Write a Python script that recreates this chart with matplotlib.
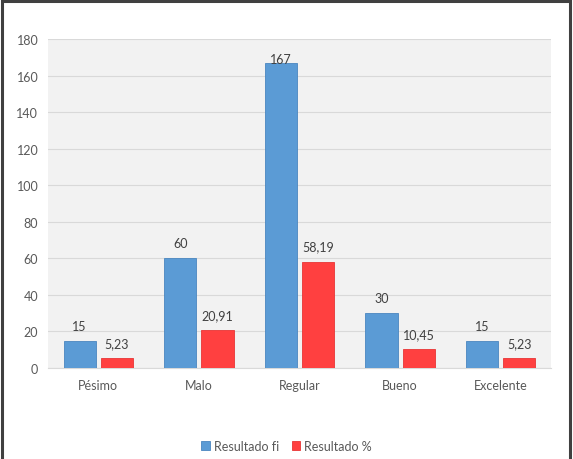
import numpy as np
import matplotlib.pyplot as plt
from matplotlib.patches import Rectangle

# Data
categories = ["Pésimo", "Malo", "Regular", "Bueno", "Excelente"]
resultado_fi = [15, 60, 167, 30, 15]
resultado_pct = [5.23, 20.91, 58.19, 10.45, 5.23]
pct_labels = ["5,23", "20,91", "58,19", "10,45", "5,23"]

plt.rcParams['font.family'] = ['Lato', 'DejaVu Sans']

fig = plt.figure(figsize=(5.73, 4.60), dpi=100)
ax = fig.add_axes([48/573, 1 - 369/460, 503/573, 329/460])

ax.set_facecolor('#f2f2f2')
x = np.arange(len(categories))
w = 0.32
off = 0.185

blue = '#5b9bd5'
red = '#ff4040'
ax.bar(x - off, resultado_fi, w, color=blue, edgecolor='#4a86c0', linewidth=0.6, zorder=3,
       label='Resultado fi')
ax.bar(x + off, resultado_pct, w, color=red, edgecolor='#e83535', linewidth=0.6, zorder=3,
       label='Resultado %')

# Value labels
for xi, v in zip(x, resultado_fi):
    ax.text(xi - off, min(v + 8.2, 169), str(v), ha='center', va='center',
            fontsize=9, color='#404040', zorder=4)
for xi, v, s in zip(x, resultado_pct, pct_labels):
    ax.text(xi + off, v + 8.2, s, ha='center', va='center',
            fontsize=9, color='#404040', zorder=4)

ax.set_xlim(-0.5, 4.5)
ax.set_ylim(0, 180)
ax.set_yticks(range(0, 181, 20))
ax.set_xticks(x)
ax.set_xticklabels(categories)
ax.yaxis.grid(True, color='#d9d9d9', linewidth=0.8, zorder=0)
ax.set_axisbelow(True)
for s in ax.spines.values():
    s.set_visible(False)
ax.spines['bottom'].set_visible(True)
ax.spines['bottom'].set_color('#d9d9d9')
ax.tick_params(length=0, labelsize=9, colors='#595959')
ax.tick_params(axis='y', pad=7)
ax.tick_params(axis='x', pad=8)

leg = fig.legend(loc='center', bbox_to_anchor=(0.5, 1 - 447/460), ncol=2, frameon=False,
                 fontsize=9, handlelength=0.7, handleheight=0.7, handletextpad=0.3,
                 columnspacing=1.0)
for t in leg.get_texts():
    t.set_color('#595959')

# Outer frame
fig.add_artist(Rectangle((1.5/573, -0.1), 568/573, 1.1 - 1.5/460, transform=fig.transFigure,
                         fill=False, edgecolor='#404040', linewidth=2.2))

fig.savefig('out.png', dpi=100)
